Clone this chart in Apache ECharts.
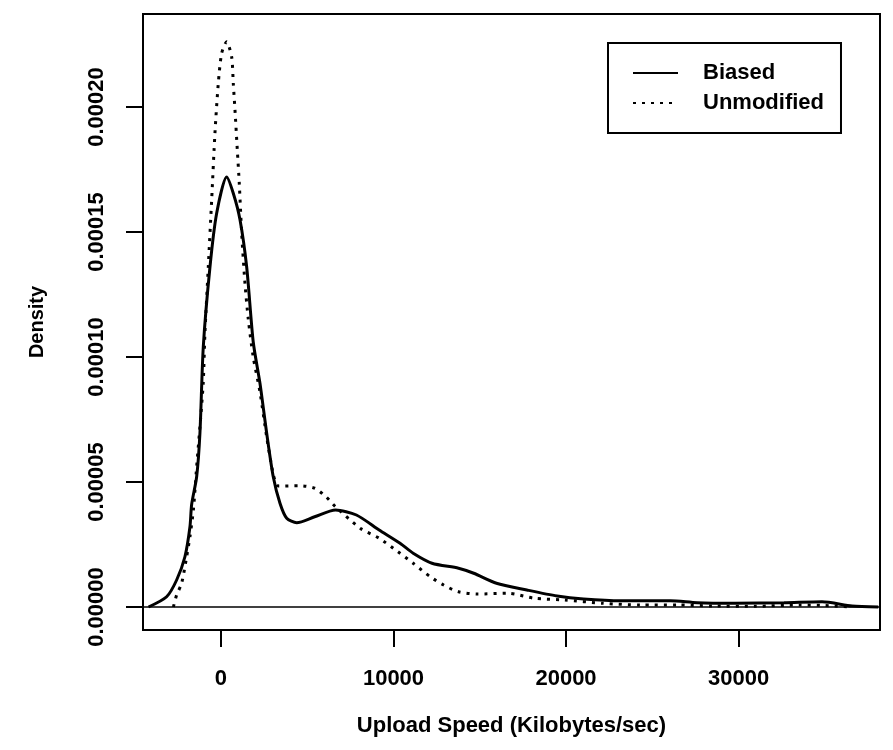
<!DOCTYPE html>
<html>
<head>
<meta charset="utf-8">
<script src="https://cdn.jsdelivr.net/npm/echarts@6/dist/echarts.min.js"></script>
<style>
  html, body { margin: 0; padding: 0; background: #fff; }
  #chart { width: 893px; height: 750px; }
</style>
</head>
<body>
<div id="chart"></div>
<script>
// values
const biasedX = [-4200, -3150, -2570, -2090, -1800, -1700, -1410, -1220, -1026, -638, -250, 330, 713, 1100, 1490, 1870,
    2260, 2650, 3030, 3420, 3810, 4390, 5430, 6640, 7850, 9170, 10380, 11140, 12230, 13770, 14650, 15970,
    17730, 19480, 21020, 23210, 26060, 27600, 29800, 32640, 34840, 36580, 38100];
const biasedY = [0, 4.1e-6, 1.08e-5, 2.01e-5, 3.2e-5, 4.1e-5, 5.21e-5, 6.95e-5, 1.04e-4, 1.36e-4, 1.575e-4, 1.72e-4,
    1.655e-4, 1.55e-4, 1.36e-4, 1.06e-4, 8.95e-5, 6.95e-5, 5.21e-5, 4.15e-5, 3.55e-5, 3.37e-5, 3.61e-5, 3.88e-5,
    3.68e-5, 3.08e-5, 2.55e-5, 2.15e-5, 1.75e-5, 1.55e-5, 1.35e-5, 9.5e-6, 6.8e-6, 4.4e-6, 3.2e-6, 2.5e-6,
    2.5e-6, 1.7e-6, 1.5e-6, 1.7e-6, 2.1e-6, 4e-7, 0];

const unmodX = [-2760, -2570, -2280, -1990, -1800, -1600, -1410, -1220, -1030, -930, -735, -540, -350, -155, 40, 330,
    620, 713, 810, 945, 1060, 1200, 1390, 1585, 1870, 2260, 2650, 3030, 3230, 3320, 4556, 5430, 6090, 6640,
    8070, 9170, 10260, 11140, 12130, 12900, 13770, 14870, 16630, 18160, 19920, 22120, 24310, 26500, 28500,
    31000, 33500, 35000, 36600];
const unmodY = [0, 4.8e-6, 9.5e-6, 2.01e-5, 2.81e-5, 3.88e-5, 5.61e-5, 7.21e-5, 8.95e-5, 1.095e-4, 1.361e-4, 1.628e-4,
    1.895e-4, 2.095e-4, 2.215e-4, 2.261e-4, 2.2e-4, 2.095e-4, 1.99e-4, 1.83e-4, 1.695e-4, 1.495e-4, 1.295e-4,
    1.15e-4, 1.0e-4, 8.6e-5, 6.8e-5, 5.3e-5, 4.9e-5, 4.84e-5, 4.85e-5, 4.75e-5, 4.41e-5, 4.01e-5, 3.15e-5,
    2.75e-5, 2.21e-5, 1.75e-5, 1.21e-5, 8.8e-6, 6.1e-6, 5.2e-6, 5.5e-6, 3.5e-6, 2.8e-6, 1.5e-6, 8e-7, 8e-7,
    4e-7, 3e-7, 8e-7, 6e-7, 0];

const xTicks = [0, 10000, 20000, 30000];
const yTicks = [0, 0.00005, 0.0001, 0.00015, 0.0002];
const seriesNames = ['Biased', 'Unmodified'];

function pairs(xs, ys) {
    return xs.map(function (x, i) { return [x, ys[i]]; });
}

const font = '"Liberation Sans", Arial, Helvetica, sans-serif';
const chart = echarts.init(document.getElementById('chart'));

const options = {
    animation: false,
    backgroundColor: '#fff',
    textStyle: { fontFamily: font, color: '#000', fontWeight: 'bold' },
    grid: {
        left: 143, right: 13, top: 14, bottom: 120,
        show: true, borderColor: '#000', borderWidth: 2
    },
    legend: {
        data: seriesNames,
        orient: 'vertical',
        left: 608, top: 43,
        padding: [19, 17, 19, 24],
        borderColor: '#000', borderWidth: 2,
        itemWidth: 45, itemHeight: 22, itemGap: 8,
        itemStyle: { opacity: 0 },
        textStyle: { fontSize: 22, fontWeight: 'bold', fontFamily: font, color: '#000', padding: [0, 0, 0, 20] }
    },
    xAxis: {
        type: 'value',
        min: -4520, max: 38200,
        name: 'Upload Speed (Kilobytes/sec)',
        nameLocation: 'middle', nameGap: 85,
        nameTextStyle: { fontSize: 22, fontWeight: 'bold', fontFamily: font, color: '#000' },
        axisLine: { show: true, onZero: false, lineStyle: { color: '#000', width: 2 } },
        axisTick: { show: true, inside: false, length: 17, customValues: xTicks, lineStyle: { color: '#000', width: 2 } },
        axisLabel: {
            customValues: xTicks, margin: 38,
            fontSize: 22, fontWeight: 'bold', fontFamily: font, color: '#000',
            formatter: function (v) { return String(v); }
        },
        splitLine: { show: false }
    },
    yAxis: {
        type: 'value',
        min: -0.0000092, max: 0.0002372,
        name: 'Density',
        nameLocation: 'middle', nameGap: 96, nameRotate: 90,
        nameTextStyle: { fontSize: 20, fontWeight: 'bold', fontFamily: font, color: '#000' },
        axisLine: { show: true, onZero: false, lineStyle: { color: '#000', width: 2 } },
        axisTick: { show: true, inside: false, length: 17, customValues: yTicks, lineStyle: { color: '#000', width: 2 } },
        axisLabel: {
            customValues: yTicks, rotate: 90, margin: 35,
            fontSize: 22, fontWeight: 'bold', fontFamily: font, color: '#000',
            formatter: function (v) { return v.toFixed(5); }
        },
        splitLine: { show: false }
    },
    series: [
        {
            name: seriesNames[0],
            type: 'line',
            data: pairs(biasedX, biasedY),
            showSymbol: false, symbol: 'none',
            smooth: 0.25,
            color: '#000',
            lineStyle: { color: '#000', width: 3, type: 'solid' },
            markLine: {
                silent: true, symbol: 'none', label: { show: false },
                lineStyle: { color: '#000', width: 1.5, type: 'solid' },
                data: [{ yAxis: 0 }]
            },
            z: 3
        },
        {
            name: seriesNames[1],
            type: 'line',
            data: pairs(unmodX, unmodY),
            showSymbol: false, symbol: 'none',
            smooth: 0.25,
            color: '#000',
            lineStyle: { color: '#000', width: 3, type: [3, 6] },
            z: 2
        }
    ]
};
chart.setOption(options);
</script>
</body>
</html>
